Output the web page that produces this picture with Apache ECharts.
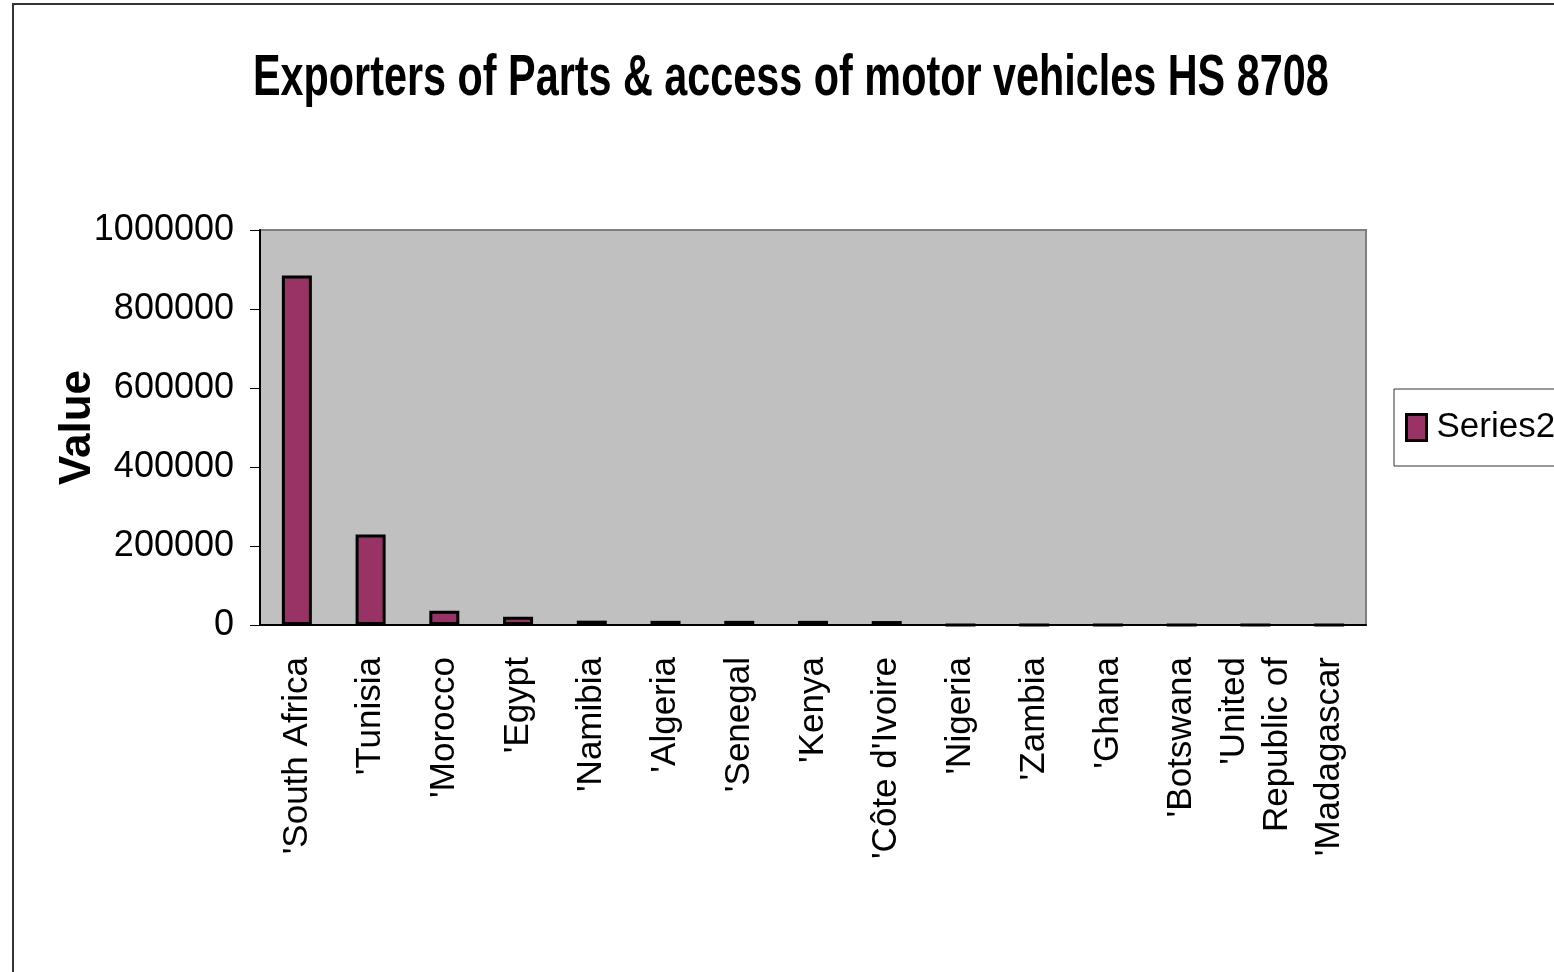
<!DOCTYPE html>
<html>
<head>
<meta charset="utf-8">
<script src="https://cdn.jsdelivr.net/npm/echarts@6/dist/echarts.min.js"></script>
<style>
html, body { margin: 0; padding: 0; background: #fff; }
#chart1 { width: 1554px; height: 972px; }
</style>
</head>
<body>
<div id="chart1"></div>
<script>
// exporters, HS 8708
var countries = ["'South Africa", "'Tunisia", "'Morocco", "'Egypt", "'Namibia", "'Algeria", "'Senegal",
    "'Kenya", "'Côte d'Ivoire", "'Nigeria", "'Zambia", "'Ghana", "'Botswana", "'United\nRepublic of", "'Madagascar"];
var series2 = [885000, 229000, 36000, 21000, 11000, 10500, 10500, 10500, 10000, 0, 0, 0, 0, 0, 0];
var yTicks = [0, 200000, 400000, 600000, 800000, 1000000];

(function(){

var chart1 = echarts.init(document.getElementById("chart1"));

var arial = "'Liberation Sans', Arial, sans-serif";

option = {
    animation: false,
    graphic: [
        {   // outer chart frame
            type: 'rect',
            shape: { x: 13, y: 4, width: 2000, height: 2000 },
            style: { fill: 'none', stroke: '#333', lineWidth: 2 },
            silent: true
        },
        {   // title, squeezed to look like a narrow face
            type: 'text',
            x: 253,
            y: 50,
            scaleX: 0.713,
            style: {
                text: 'Exporters of Parts & access of motor vehicles HS 8708',
                font: 'bold 58px ' + arial,
                fill: '#000',
                textVerticalAlign: 'top'
            }
        }
    ],
    legend: {
        left: 1394,
        top: 389,
        orient: 'vertical',
        padding: [21, 20, 21, 11],
        borderColor: '#333',
        borderWidth: 1,
        itemWidth: 20,
        itemHeight: 26,
        icon: 'rect',
        itemStyle: { borderColor: '#000', borderWidth: 3 },
        textStyle: { fontFamily: arial, fontSize: 35, color: '#000', padding: [0, 0, 0, 5] },
        data: ['Series2']
    },
    grid: {
        left: 260,
        right: 188,
        top: 230,
        bottom: 347,
        outerBoundsMode: 'none',
        show: true,
        backgroundColor: '#C0C0C0',
        borderColor: '#808080',
        borderWidth: 2
    },
    xAxis: {
        type: 'category',
        data: countries,
        axisLine: { lineStyle: { color: '#000', width: 2 } },
        axisTick: { length: 15, lineStyle: { color: '#000', width: 1 } },
        axisLabel: {
            rotate: 90,
            margin: 32,
            interval: 0,
            fontFamily: arial,
            fontSize: 35,
            lineHeight: 43,
            color: '#000'
        }
    },
    yAxis: {
        type: 'value',
        min: yTicks[0],
        max: yTicks[yTicks.length - 1],
        interval: 200000,
        name: 'Value',
        nameLocation: 'middle',
        nameGap: 160,
        nameMoveOverlap: false,
        nameTextStyle: {
            fontFamily: arial,
            fontWeight: 'bold',
            fontSize: 44,
            color: '#000'
        },
        axisLine: { show: true, lineStyle: { color: '#000', width: 2 } },
        axisTick: { show: true, length: 10, lineStyle: { color: '#000' } },
        splitLine: { show: false },
        axisLabel: {
            margin: 26,
            fontFamily: arial,
            fontSize: 36,
            color: '#000',
            formatter: function (v) { return String(v); }
        }
    },
    series: [
        {
            name: 'Series2',
            type: 'bar',
            barWidth: 30,
            itemStyle: { color: '#993366', borderColor: '#000', borderWidth: 3 },
            data: series2
        }
    ]
};

chart1.setOption(option);
})();
</script>
</body>
</html>
